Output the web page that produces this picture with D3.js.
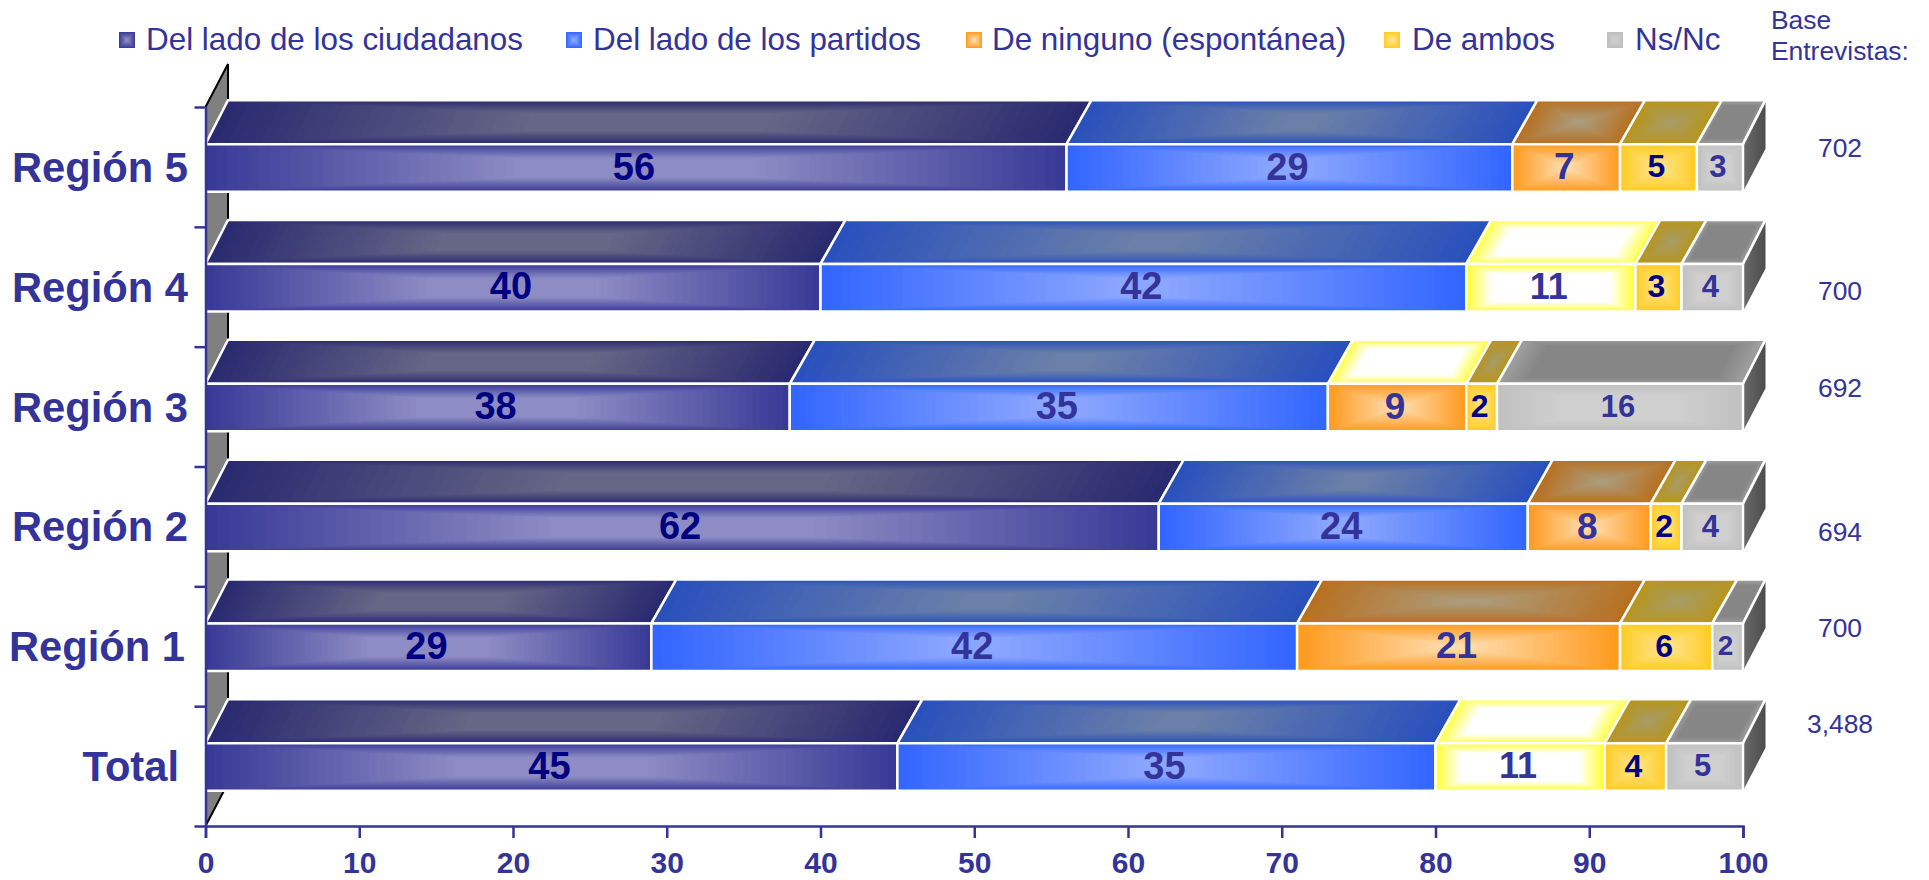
<!DOCTYPE html>
<html><head><meta charset="utf-8">
<script src="https://cdn.jsdelivr.net/npm/d3@7"></script>
<style>html,body{margin:0;padding:0;background:#fff;overflow:hidden}svg{display:block}text{font-family:"Liberation Sans",Arial,sans-serif}</style>
</head><body><svg id="c" width="1929" height="880"></svg>
<script>
const categories = ["Región 5","Región 4","Región 3","Región 2","Región 1","Total"];
const seriesNames = ["Del lado de los ciudadanos","Del lado de los partidos","De ninguno (espontánea)","De ambos","Ns/Nc"];
const ciudadanos = [56,40,38,62,29,45];
const partidos   = [29,42,35,24,42,35];
const ninguno    = [7,11,9,8,21,11];
const ambos      = [5,3,2,2,6,4];
const nsnc       = [3,4,16,4,2,5];
const bases      = ["702","700","692","694","700","3,488"];
const baseOffset = [-19,4,-19,5,-19,-43];
const labelShift = [0,0,0,0,-3,-9];
const xTicks     = [0,10,20,30,40,50,60,70,80,90,100];
const seriesValues = [ciudadanos,partidos,ninguno,ambos,nsnc];

const ink="#333399", navy="#000080";
const styles = [
 {front:["#383a96","#8e8cc4"],top:["#2a2a70","#666686"],fx:.36,fy:.3,label:navy,size:38},
 {front:["#3366ff","#8ba6ff"],top:["#2a50bc","#6a80a8"],fx:.46,fy:.3,label:ink,size:38},
 {front:["#ff9a1e","#ffdcae"],top:["#b87020","#ac9c7c"],fx:.46,fy:.46,label:ink,size:37},
 {front:["#ffcc22","#ffe48e"],top:["#b8951c","#a89c64"],fx:.46,fy:.46,label:navy,size:32},
 {front:["#c0c0c0","#cfcfcf"],top:["#a0a0a0","#868686"],fx:.25,fy:.25,tfx:.12,tfy:.14,label:ink,size:31}
];
const pale = {front:["#ffff33","#ffffff"],top:["#ffff44","#ffffff"],fx:.15,fy:.2};
const paleFront = new Set(["1-2","5-2"]);
const paleTop   = new Set(["1-2","2-2","5-2"]);

const svg=d3.select("#c");
const X0=205.5,X1=1743,AY=826,TY=107,DX=22.5,DY=43,JOG=2.5;
const x=d3.scaleLinear().domain([0,100]).range([X0,X1]);
const yTick=d3.scaleLinear().domain([0,categories.length]).range([TY,AY]);
const y=d3.scaleBand().domain(categories).range([TY,AY]).paddingInner(.603).paddingOuter(.3015);

// rectangular path gradient: nested quadrilaterals from edge colour to centre colour
function face(g,xa,xb,yt,yb,shiftA,shiftB,cols,fx,fy){
  const col=d3.interpolateRgb(cols[0],cols[1]);
  const n=30;
  const P=(u,v)=>[xa+(xb-xa)*u+(1-v)*(shiftA+(shiftB-shiftA)*u), yt+(yb-yt)*v];
  g.selectAll(null).data(d3.range(n)).join("polygon")
   .attr("fill",i=>col(i/(n-1)))
   .attr("points",i=>{
     const k=i/(n-1), a=k*fx, b=k*fy;
     return [P(a,b),P(1-a,b),P(1-a,1-b),P(a,1-b)].join(" ");
   });
}
function outline(g,pts,w){g.append("polygon").attr("points",pts.join(" ")).attr("fill","none").attr("stroke","#fff").attr("stroke-width",w||2.5).attr("stroke-linejoin","miter");}

const defs=svg.append("defs");
const sg=defs.append("linearGradient").attr("id","side");
sg.append("stop").attr("offset","0").attr("stop-color","#6a6a6a");
sg.append("stop").attr("offset","1").attr("stop-color","#4c4c4c");

// back wall
svg.append("polygon").attr("fill","#808080")
 .attr("points",[[X0,TY],[X0+DX,TY-DY],[X0+DX,AY-DY],[X0,AY]].join(" "));
svg.append("polyline").attr("fill","none").attr("stroke","#000").attr("stroke-width",2)
 .attr("points",[[X0,TY],[X0+DX,TY-DY],[X0+DX,AY-DY],[X0,AY]].join(" "));

// stacked bars
categories.forEach((cat,ci)=>{
  const g=svg.append("g");
  const yt=y(cat)+1, yb=yt+y.bandwidth(), bt=y(cat)-DY;
  let cum=0;
  const segs=seriesValues.map((v,si)=>{const s={si,v:v[ci],a:cum,b:cum+v[ci]};cum=s.b;return s;});
  const shift=v=>(v>0&&v<100)?DX+JOG:DX;
  segs.forEach(s=>{
    const st=styles[s.si], key=ci+"-"+s.si;
    const tp=paleTop.has(key)?pale:st;
    const xa=x(s.a), xb=x(s.b), sa=shift(s.a), sb=shift(s.b);
    face(g.append("g"),xa,xb,bt,yt,sa,sb,tp.top,tp.tfx||tp.fx,tp.tfy||tp.fy);
    outline(g,[[xa,yt],[xa+sa,bt],[xb+sb,bt],[xb,yt]]);
  });
  g.append("polygon").attr("fill","url(#side)")
   .attr("points",[[x(100),yt],[x(100)+DX,bt],[x(100)+DX,yb-DY],[x(100),yb]].join(" "));
  g.append("line").attr("x1",x(100)).attr("y1",yt).attr("x2",x(100)+DX).attr("y2",bt).attr("stroke","#fff").attr("stroke-width",2.5);
  segs.forEach(s=>{
    const st=styles[s.si], key=ci+"-"+s.si;
    const fp=paleFront.has(key)?pale:st;
    const xa=x(s.a), xb=x(s.b);
    face(g.append("g"),xa,xb,yt,yb,0,0,fp.front,fp.fx,fp.fy);
    outline(g,[[xa,yt],[xb,yt],[xb,yb],[xa,yb]]);
  });
  segs.forEach(s=>{
    const st=styles[s.si], key=ci+"-"+s.si;
    let size=st.size;
    if(paleFront.has(key)) size=36;
    if(s.si===4 && s.v===2) size=28;
    g.append("text").attr("x",x(s.a+s.v/2)-2).attr("y",(yt+yb)/2+size*.358-2)
     .attr("text-anchor","middle").attr("font-weight","bold").attr("font-size",size)
     .attr("fill",st.label&&!paleFront.has(key)?st.label:ink).text(s.v);
  });
});

// axes
const ax=svg.append("g").attr("transform",`translate(0,${AY})`)
 .call(d3.axisBottom(x).tickValues(xTicks).tickSizeInner(12).tickSizeOuter(12).tickPadding(14));
ax.selectAll("text").attr("font-size",30).attr("font-weight","bold").attr("fill",ink).attr("font-family",'"Liberation Sans",Arial,sans-serif');
ax.selectAll("line,path").attr("stroke",ink).attr("stroke-width",2.5);
const ay=svg.append("g").attr("transform",`translate(${X0},0)`)
 .call(d3.axisLeft(yTick).tickValues(d3.range(categories.length+1)).tickFormat("").tickSizeInner(11).tickSizeOuter(0));
ay.selectAll("line,path").attr("stroke",ink).attr("stroke-width",2.5);

svg.append("g").selectAll("text").data(categories).join("text")
 .attr("x",(d,i)=>188+labelShift[i]).attr("y",d=>y(d)+y.bandwidth()/2+15)
 .attr("text-anchor","end").attr("font-weight","bold").attr("font-size",41.7).attr("fill",ink).text(d=>d);

// base column
svg.append("text").attr("x",1771).attr("y",29).attr("font-size",26.4).attr("fill",ink).text("Base");
svg.append("text").attr("x",1771).attr("y",60).attr("font-size",26.4).attr("fill",ink).text("Entrevistas:");
svg.append("g").selectAll("text").data(bases).join("text")
 .attr("x",1840).attr("y",(d,i)=>y(categories[i])+y.bandwidth()/2+baseOffset[i]+9.5)
 .attr("text-anchor","middle").attr("font-size",26.4).attr("fill",ink).text(d=>d);

// legend
const legendMarkX=[119,566,966,1384,1607], legendTextX=[146,593,992,1412,1635];
seriesNames.forEach((n,i)=>{
  const st=styles[i];
  face(svg.append("g"),legendMarkX[i],legendMarkX[i]+16,32,48,0,0,st.front,.45,.45);
  svg.append("text").attr("x",legendTextX[i]).attr("y",50).attr("font-size",31.4).attr("fill",ink).text(n);
});
</script></body></html>
